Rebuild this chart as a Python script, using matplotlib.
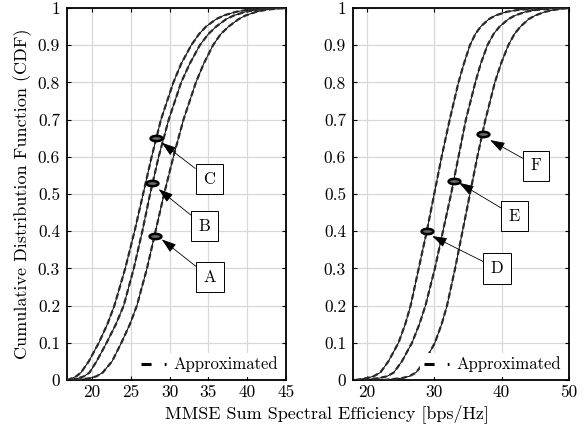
import matplotlib
matplotlib.use("Agg")
import matplotlib.pyplot as plt
from matplotlib.lines import Line2D
from matplotlib.path import Path
from matplotlib.transforms import Affine2D

plt.rcParams['font.family'] = 'serif'
plt.rcParams['font.serif'] = ['cmr10', 'DejaVu Serif']
plt.rcParams['mathtext.fontset'] = 'cm'
plt.rcParams['axes.formatter.use_mathtext'] = True

# CDF levels
cdf = [0, 0.005, 0.01, 0.02, 0.05, 0.1, 0.15, 0.2, 0.3, 0.4, 0.5, 0.6, 0.7, 0.8,
       0.85, 0.9, 0.93, 0.95, 0.97, 0.98, 0.99, 0.995, 0.999, 1.0]

# left panel (curves A, B, C)
left_c1 = [16.8, 17.5, 18.0, 18.6, 19.6, 20.9, 22.0, 22.9, 24.3, 25.5, 26.6, 27.7,
           28.9, 30.5, 31.5, 32.8, 33.8, 34.7, 36.0, 37.0, 38.6, 40.0, 42.5, 45.0]
left_c2 = [17.3, 18.3, 19.0, 19.7, 20.6, 21.9, 23.1, 24.1, 25.4, 26.5, 27.5, 28.6,
           29.9, 31.5, 32.6, 33.9, 35.0, 36.0, 37.3, 38.3, 39.8, 41.2, 43.2, 45.0]
left_c3 = [18.0, 19.8, 20.6, 21.4, 22.6, 23.8, 24.9, 25.8, 27.1, 28.2, 29.3, 30.5,
           31.8, 33.4, 34.4, 35.6, 36.6, 37.6, 38.9, 39.8, 41.2, 42.4, 44.0, 45.0]

# right panel (curves D, E, F)
right_c1 = [18.3, 20.0, 21.0, 22.0, 23.2, 24.7, 25.7, 26.5, 27.7, 28.9, 30.0, 31.1,
            32.3, 33.6, 34.4, 35.3, 36.1, 36.9, 38.1, 39.1, 40.8, 42.5, 45.5, 50.0]
right_c2 = [19.5, 21.8, 23.0, 24.0, 25.2, 26.7, 27.8, 28.7, 30.1, 31.3, 32.5, 33.6,
            34.7, 36.1, 36.9, 37.9, 38.8, 39.7, 41.0, 42.0, 43.6, 45.2, 47.8, 50.0]
right_c3 = [22.5, 25.2, 26.3, 27.3, 28.6, 30.1, 31.1, 31.9, 33.1, 34.2, 35.3, 36.4,
            37.6, 39.0, 39.9, 41.0, 41.9, 42.8, 44.0, 45.0, 46.5, 47.8, 49.3, 50.0]

# annotated points: label, point x, point y, arrow tip x, tip y, box x, box y
left_notes = [
    ('A', 28.1, 0.388, 29.0, 0.378, 35.2, 0.276),
    ('B', 27.8, 0.529, 28.6, 0.513, 34.5, 0.414),
    ('C', 28.3, 0.650, 29.0, 0.638, 35.1, 0.540),
]
right_notes = [
    ('D', 28.9, 0.400, 29.7, 0.387, 39.3, 0.300),
    ('E', 33.0, 0.536, 33.7, 0.530, 41.9, 0.441),
    ('F', 37.2, 0.662, 38.3, 0.645, 45.1, 0.576),
]

left_xticks = [20, 25, 30, 35, 40, 45]
right_xticks = [20, 30, 40, 50]
yticks = [0, 0.1, 0.2, 0.3, 0.4, 0.5, 0.6, 0.7, 0.8, 0.9, 1]
ytick_labels = ['0', '0.1', '0.2', '0.3', '0.4', '0.5', '0.6', '0.7', '0.8', '0.9', '1']

ellipse = Path.unit_circle().transformed(Affine2D().scale(1.0, 0.45))
dash_style = (0, (2.6, 1.4))


def draw_panel(ax, curves, notes, xlim, xticks):
    for xs in curves:
        ax.plot(xs, cdf, color='black', lw=0.7, zorder=3)
        ax.plot(xs, cdf, color='#2a2a2a', lw=1.6, linestyle=dash_style, zorder=4)
    for lab, px, py, tx, ty, bx, by in notes:
        ax.plot([px], [py], marker=ellipse, ms=8.5, mfc='#666666', mec='black',
                mew=1.8, zorder=6)
        ax.annotate(lab, xy=(tx, ty), xytext=(bx, by), fontsize=12,
                    ha='center', va='center', zorder=7,
                    bbox=dict(boxstyle='square,pad=0.45', fc='white', ec='black', lw=0.7),
                    arrowprops=dict(arrowstyle='-|>,head_length=0.75,head_width=0.25',
                                    color='black', lw=0.6, shrinkA=0, shrinkB=0,
                                    mutation_scale=12))
    ax.set_xlim(*xlim)
    ax.set_ylim(0, 1)
    ax.set_xticks(xticks)
    ax.set_xticklabels([str(t) for t in xticks])
    ax.set_yticks(yticks)
    ax.set_yticklabels(ytick_labels)
    ax.grid(True, color='#d8d8d8', lw=0.9)
    ax.set_axisbelow(True)
    ax.tick_params(direction='in', length=3, width=0.8, top=True, right=True,
                   labelsize=12.5, pad=5)
    ax.tick_params(axis='x', pad=3.5)
    for s in ax.spines.values():
        s.set_linewidth(1.3)
    # legend handle: one dash and a dot, as in the reference
    proxy = Line2D([], [], color='black', lw=2.2, linestyle=(0, (3.3, 4.3)))
    leg = ax.legend([proxy], ['Approximated'], loc='lower right', fontsize=12,
                    handlelength=1.45, handletextpad=0.5, borderaxespad=0.2,
                    borderpad=0.25, fancybox=False, framealpha=1, edgecolor='none')
    leg.set_zorder(8)


fig = plt.figure(figsize=(5.87, 4.30), dpi=100)
ax1 = fig.add_axes([67 / 587, 50 / 430, 219 / 587, 372 / 430])
ax2 = fig.add_axes([353 / 587, 50 / 430, 216 / 587, 372 / 430])

draw_panel(ax1, [left_c1, left_c2, left_c3], left_notes, (16.8, 45), left_xticks)
draw_panel(ax2, [right_c1, right_c2, right_c3], right_notes, (17.95, 50), right_xticks)

fig.text(23 / 587, 1 - 194 / 430, 'Cumulative Distribution Function (CDF)',
         fontsize=13, rotation=90, ha='center', va='center')
fig.text(327 / 587, 1 - 414 / 430, 'MMSE Sum Spectral Efficiency [bps/Hz]',
         fontsize=13, ha='center', va='center')

fig.savefig('out.png', dpi=100)
